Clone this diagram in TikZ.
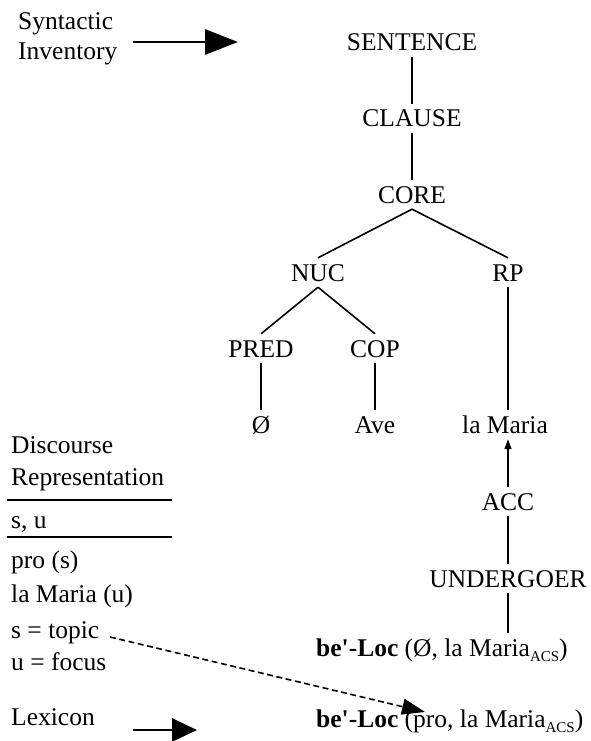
\documentclass[tikz,border=0pt]{standalone}
\usepackage{fontspec}
\setmainfont{Liberation Serif}
\usetikzlibrary{arrows.meta}
\newcommand{\acsub}{\raisebox{-5pt}{\fontsize{15}{15}\selectfont ACS}}
\newcommand{\sq}{\textquotesingle}
\begin{document}
\begin{tikzpicture}[x=1pt,y=-1pt,
  every node/.style={font=\fontsize{25.5}{30}\selectfont},
  tn/.style={anchor=base, inner xsep=2pt, inner ysep=6pt, text height=17pt, text depth=0pt},
  lt/.style={anchor=base west, inner sep=0pt},
  branch/.style={line width=1.6pt},
  uparrow/.style={line width=1.6pt, -{Triangle[length=10pt,width=7pt]}},
  bigarrow/.style={line width=2.8pt, -{Triangle[length=33pt,width=25pt]}},
  midarrow/.style={line width=2.8pt, -{Triangle[length=25pt,width=23pt]}},
  dasharrow/.style={line width=1.6pt, dash pattern=on 6pt off 3.5pt, -{Triangle[length=23pt,width=16pt]}},
  rule/.style={line width=1.9pt}
]
\useasboundingbox (0,0) rectangle (591,741);

% left column
\node[lt] (syn) at (18,30) {Syntactic};
\node[lt] (inv) at (18,60) {Inventory};
\coordinate (sa) at (133,42);
\coordinate (sb) at (238,42);
\draw[bigarrow] (sa) -- (sb);

\node[lt] (dis) at (11,453) {Discourse};
\node[lt] (rep) at (11,485) {Representation};
\draw[rule] (7,500) -- (172,500);
\node[lt] (su) at (11,528) {s, u};
\draw[rule] (7,537) -- (172,537);
\node[lt] (pro) at (11,568) {pro (s)};
\node[lt] (lmu) at (11,602) {la Maria (u)};
\node[lt] (top) at (11,638) {s = topic};
\node[lt] (foc) at (11,670) {u = focus};
\node[lt] (lex) at (11,725) {Lexicon};
\coordinate (la) at (133,730);
\coordinate (lb) at (197,730);
\draw[midarrow] (la) -- (lb);

% tree
\node[tn] (sent) at (412,51) {SENTENCE};
\node[tn] (clause) at (412,127) {CLAUSE};
\node[tn] (core) at (412,203) {CORE};
\node[tn] (nuc) at (318,281) {NUC};
\node[tn] (rp) at (508,281) {RP};
\node[tn] (pred) at (261,357) {PRED};
\node[tn] (cop) at (375,357) {COP};
\node[tn] (null) at (261,433) {Ø};
\node[tn] (ave) at (375,433) {Ave};
\node[tn] (lm) at (505,433) {la Maria};
\node[tn] (acc) at (508,510) {ACC};
\node[tn] (und) at (508,587) {UNDERGOER};
\node[tn, anchor=base west, inner xsep=0pt] (bl1) at (316,656) {\textbf{be\sq-Loc} (Ø, la Maria\acsub)};
\node[tn, anchor=base west, inner xsep=0pt] (bl2) at (316,727) {\textbf{be\sq-Loc} (pro, la Maria\acsub)};

\draw[branch] (sent.south) -- (clause.north);
\draw[branch] (clause.south) -- (core.north);
\draw[branch] (core.south) -- (nuc.north);
\draw[branch] (core.south) -- (rp.north);
\draw[branch] (nuc.south) -- (pred.north);
\draw[branch] (nuc.south) -- (cop.north);
\draw[branch] (pred.south) -- (null.north);
\draw[branch] (cop.south) -- (ave.north);
\draw[branch] (rp.south) -- (rp.south |- lm.north);
\draw[uparrow] (acc.north) -- (acc.north |- lm.south);
\draw[branch] (acc.south) -- (und.north);
\draw[branch] (und.south) -- (und.south |- bl1.north);

\coordinate (ds) at (110,637);
\coordinate (de) at (425,712);
\draw[dasharrow] (ds) -- (de);
\end{tikzpicture}
\end{document}
